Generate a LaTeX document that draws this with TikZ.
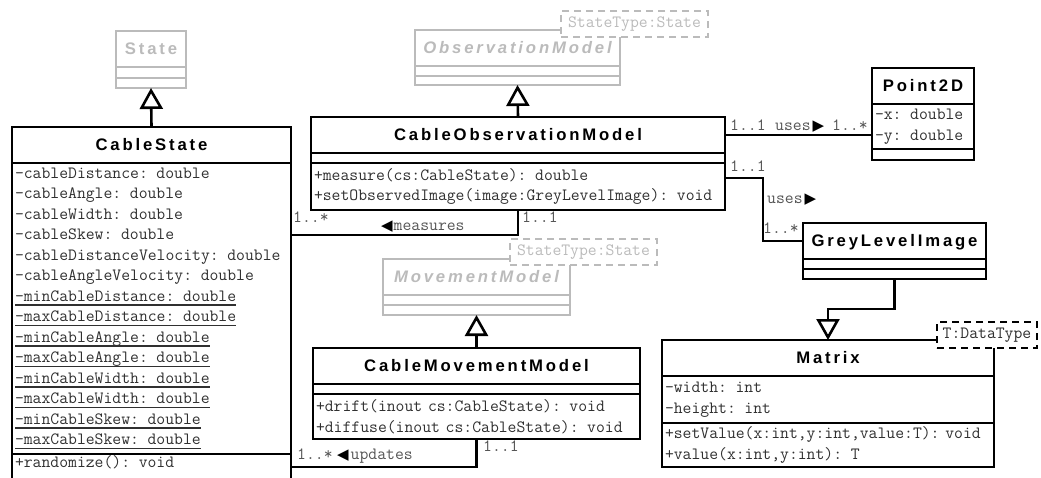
\documentclass[tikz,border=0pt]{standalone}
\usepackage{fontspec}
\newfontfamily\headfamily[LetterSpace=17]{Liberation Sans}
\newfontfamily\arrowfamily{DejaVu Sans}
\usetikzlibrary{arrows.meta, positioning}

\definecolor{abstractgrey}{HTML}{BBBBBB}
\definecolor{membergrey}{HTML}{303030}
\definecolor{multgrey}{HTML}{555555}

\newcommand{\headfont}{\fontsize{16.7}{20}\headfamily\bfseries}
\newcommand{\memberfont}{\fontsize{17.2}{20.5}\ttfamily}
% static members are underlined
\newcommand{\staticattr}[1]{\leavevmode\setbox0\hbox{#1}\rlap{\rule[-4.8pt]{\wd0}{1.6pt}}\box0}
\newcommand{\navleft}{{\fontsize{15}{15}\arrowfamily\color{black}◀}}
\newcommand{\navright}{{\fontsize{15}{15}\arrowfamily\color{black}▶}}

\tikzset{
  classhead/.style={draw, line width=2.6pt, outer sep=0pt, anchor=north west,
    minimum height=36, inner sep=0pt, text height=13pt, text depth=3pt, font=\headfont},
  compartment/.style={draw, line width=2.2pt, outer sep=0pt, anchor=north west,
    inner xsep=3pt, inner ysep=0pt, align=left, font=\memberfont, text=membergrey},
  abstract/.style={draw=abstractgrey, text=abstractgrey, line width=2pt},
  templatebox/.style={draw, dash pattern=on 7pt off 5pt, fill=white, line width=2.2pt,
    outer sep=0pt, anchor=north west, minimum height=26, inner sep=0pt,
    font=\memberfont, text=membergrey},
  mult/.style={font=\memberfont, text=multgrey, inner sep=0pt, anchor=base west},
  assoc/.style={line width=2.6pt},
  inherit/.style={line width=2.6pt, -{Triangle[open, length=21pt, width=23pt]}}
}

\begin{document}
\begin{tikzpicture}[x=1pt, y=-1pt]
  \useasboundingbox (0,0) rectangle (1041,477);

  % abstract base classes
  \node[classhead, abstract, minimum width=70] (state) at (116,31) {State};
  \node[compartment, abstract, minimum width=70, minimum height=11] (state-attr) at (state.south west) {};
  \node[compartment, abstract, minimum width=70, minimum height=10] (state-ops) at (state-attr.south west) {};

  \node[classhead, abstract, minimum width=205, font=\headfont\itshape] (om) at (415,30) {ObservationModel};
  \node[compartment, abstract, minimum width=205, minimum height=10] (om-attr) at (om.south west) {};
  \node[compartment, abstract, minimum width=205, minimum height=9] (om-ops) at (om-attr.south west) {};
  \node[templatebox, draw=abstractgrey, text=abstractgrey, minimum width=147] (om-param) at (561,11) {StateType:State};

  \node[classhead, abstract, minimum width=187, font=\headfont\itshape] (mm) at (383,259) {MovementModel};
  \node[compartment, abstract, minimum width=187, minimum height=10] (mm-attr) at (mm.south west) {};
  \node[compartment, abstract, minimum width=187, minimum height=10] (mm-ops) at (mm-attr.south west) {};
  \node[templatebox, draw=abstractgrey, text=abstractgrey, minimum width=147] (mm-param) at (510,239) {StateType:State};

  % CableState
  \node[classhead, minimum width=279] (cs) at (12,127) {CableState};
  \node[compartment, text width=273, minimum height=291] (cs-attr) at (cs.south west) {%
    -cableDistance: double\\
    -cableAngle: double\\
    -cableWidth: double\\
    -cableSkew: double\\
    -cableDistanceVelocity: double\\
    -cableAngleVelocity: double\\
    \staticattr{-minCableDistance: double}\\
    \staticattr{-maxCableDistance: double}\\
    \staticattr{-minCableAngle: double}\\
    \staticattr{-maxCableAngle: double}\\
    \staticattr{-minCableWidth: double}\\
    \staticattr{-maxCableWidth: double}\\
    \staticattr{-minCableSkew: double}\\
    \staticattr{-maxCableSkew: double}};
  \node[compartment, text width=273, minimum height=36] (cs-ops) at (cs-attr.south west) {+randomize(): void\\\mbox{}};

  % CableObservationModel
  \node[classhead, minimum width=414] (com) at (311,117) {CableObservationModel};
  \node[compartment, minimum width=414, minimum height=10] (com-attr) at (com.south west) {};
  \node[compartment, text width=408, minimum height=47] (com-ops) at (com-attr.south west) {%
    +measure(cs:CableState): double\\
    +setObservedImage(image:GreyLevelImage): void};

  % CableMovementModel
  \node[classhead, minimum width=327] (cmm) at (313,348) {CableMovementModel};
  \node[compartment, minimum width=327, minimum height=10] (cmm-attr) at (cmm.south west) {};
  \node[compartment, text width=321, minimum height=45] (cmm-ops) at (cmm-attr.south west) {%
    +drift(inout cs:CableState): void\\
    +diffuse(inout cs:CableState): void};

  % Point2D
  \node[classhead, minimum width=102] (pt) at (872,68) {Point2D};
  \node[compartment, text width=96, minimum height=45] (pt-attr) at (pt.south west) {-x: double\\-y: double};
  \node[compartment, minimum width=102, minimum height=11] (pt-ops) at (pt-attr.south west) {};

  % GreyLevelImage
  \node[classhead, minimum width=183] (gli) at (803,223) {GreyLevelImage};
  \node[compartment, minimum width=183, minimum height=10] (gli-attr) at (gli.south west) {};
  \node[compartment, minimum width=183, minimum height=10] (gli-ops) at (gli-attr.south west) {};

  % Matrix
  \node[classhead, minimum width=332] (mx) at (662,340) {Matrix};
  \node[compartment, text width=326, minimum height=47] (mx-attr) at (mx.south west) {-width: int\\-height: int};
  \node[compartment, text width=326, minimum height=44] (mx-ops) at (mx-attr.south west) {%
    +setValue(x:int,y:int,value:T): void\\
    +value(x:int,y:int): T};
  \node[templatebox, minimum width=100] (mx-param) at (937,322) {T:DataType};

  % generalisations
  \draw[inherit] (cs.north) -- (state-ops.south);
  \draw[inherit] (com.north) -- (om-ops.south);
  \draw[inherit] (cmm.north) -- (mm-ops.south);
  \draw[inherit] (gli-ops.south) -- ++(0,30) -| (mx.north);

  % associations
  \draw[assoc] (com-ops.south) -- ++(0,25) coordinate (measures) -- (measures -| cs-attr.east);
  \draw[assoc] (cmm-ops.south) -- ++(0,28) coordinate (updates) -- (updates -| cs-attr.east);
  \draw[assoc] (com.east) -- (com.east -| pt-attr.west);
  \draw[assoc] ([yshift=8.5pt]com-ops.east) -- ++(38,0) |- (gli.west);

  % multiplicities and role names
  \node[mult] (measures-cs) at (293,222) {1..*};
  \node[mult] (measures-name) at (381,230) {\navleft\hspace{1pt}measures};
  \node[mult] (measures-com) at (522,222) {1..1};
  \node[mult] (updates-cs) at (297,459) {1..*};
  \node[mult] (updates-name) at (337,459) {\navleft\hspace{2pt}updates};
  \node[mult] (updates-cmm) at (483,451) {1..1};
  \node[mult] (point-com) at (730,130) {1..1};
  \node[mult] (point-name) at (775,130) {uses\hspace{2pt}\navright};
  \node[mult] (point-pt) at (832,130) {1..*};
  \node[mult] (image-com) at (730,171) {1..1};
  \node[mult] (image-name) at (767,203) {uses\hspace{2pt}\navright};
  \node[mult] (image-gli) at (763,233) {1..*};
\end{tikzpicture}
\end{document}
